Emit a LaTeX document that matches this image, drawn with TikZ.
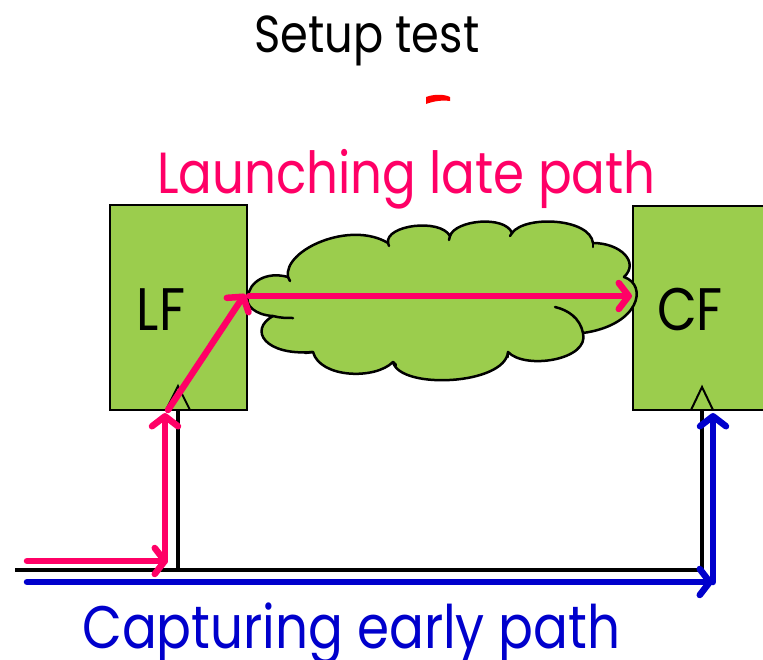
\documentclass[tikz,border=0pt]{standalone}
\usepackage{fontspec}
\newfontfamily\geofont[FakeStretch=0.86]{Poppins}
\usetikzlibrary{arrows.meta}
\definecolor{ffgreen}{RGB}{155,205,77}
\definecolor{latepink}{RGB}{255,0,102}
\definecolor{earlyblue}{RGB}{0,0,204}
\tikzset{
  flop/.style={draw=black,line width=2.5pt,fill=ffgreen,inner sep=0pt},
  wire/.style={draw=black,line width=3.5pt},
  latearrow/.style={draw=latepink,line width=6.5pt,line cap=round,
    -{Straight Barb[length=10pt,width=26pt,round]}},
  earlyarrow/.style={draw=earlyblue,line width=6.5pt,line cap=round,
    -{Straight Barb[length=10pt,width=26pt,round]}},
  clk/.style={draw=black,line width=2pt,line join=miter},
  cloudline/.style={draw=black,line width=2.5pt,line cap=round},
  ffname/.style={font=\geofont\fontsize{60}{66}\selectfont,inner sep=0pt,anchor=base},
  label/.style={inner sep=0pt,anchor=base west},
}
\begin{document}
\begin{tikzpicture}[x=1pt,y=-1pt]
\useasboundingbox (0,0) rectangle (763,659);

% flip-flops
\path[flop] (110,205) rectangle (247,410);
\path[flop] (633,206) rectangle (790,410);
\node[ffname] (lf) at (161,330) {LF};
\node[ffname] (cf) at (690,330) {CF};

% clock inputs
\draw[clk] (166,410) -- (178,386) -- (190,410);
\draw[clk] (691,410) -- (702,387) -- (713,410);

% combinational logic cloud
\path[cloudline,fill=ffgreen,line join=round]
  (248,297) .. controls (249,282) and (266,271) .. (288,277)
  .. controls (283,250) and (350,220) .. (388,243)
  .. controls (385,225) and (440,218) .. (450,236)
  .. controls (455,220) and (505,215) .. (512,233)
  .. controls (525,215) and (590,218) .. (593,243)
  .. controls (620,243) and (640,262) .. (624,277)
  .. controls (648,285) and (640,325) .. (583,333)
  .. controls (590,360) and (525,370) .. (508,352)
  .. controls (505,385) and (400,390) .. (393,362)
  .. controls (375,380) and (320,378) .. (313,352)
  .. controls (265,356) and (248,330) .. (273,316)
  .. controls (255,315) and (245,305) .. (248,297) -- cycle;
% inner folds of the cloud
\draw[cloudline] (273,316) .. controls (280,318) and (287,318) .. (293,318);
\draw[cloudline] (583,333) .. controls (580,318) and (568,310) .. (555,307);
\draw[cloudline] (288,277) -- (290,281);
\draw[cloudline] (388,243) -- (389,246);
\draw[cloudline] (450,236) -- (449,240);
\draw[cloudline] (512,233) -- (510,236);
\draw[cloudline] (593,243) -- (593,247);
\draw[cloudline] (508,352) -- (508,357);
\draw[cloudline] (393,362) -- (396,365);
\draw[cloudline] (313,352) -- (305,353);
\node[inner sep=0pt] (logic) at (443,302) {};

% clock net
\coordinate (src) at (15,570);
\coordinate (lfclk) at (178,410);
\coordinate (lftap) at (178,570);
\coordinate (cfclk) at (702,410);
\coordinate (cftap) at (702,570);
\draw[wire] (src) -- (cftap) -- (cfclk);
\draw[wire] (lftap) -- (lfclk);

% launching path
\coordinate (l0) at (27,561);
\coordinate (l1) at (168,561);
\coordinate (l2) at (165,561);
\coordinate (l3) at (165,413);
\coordinate (l4) at (168,410);
\coordinate (l5) at (245,294);
\coordinate (l6) at (249,296);
\coordinate (l7) at (632,296);
\draw[latearrow] (l0) -- (l1);
\draw[latearrow] (l2) -- (l3);
\draw[latearrow] (l4) -- (l5);
\draw[latearrow] (l6) -- (l7);

% capturing path
\coordinate (c0) at (27,582);
\coordinate (c1) at (713,582);
\coordinate (c2) at (713,413);
\draw[earlyarrow] (c0) -- (c1);
\draw[earlyarrow] (c1) -- (c2);

% small red mark
\fill[red] (426,97) .. controls (434,94) and (444,94) .. (450,97) -- (450,101)
  .. controls (442,100) and (434,101) .. (426,104) -- cycle;

% titles
\node[font=\geofont\fontsize{52}{58}\selectfont,inner sep=0pt,anchor=base] (title) at (367,52) {Setup test};
\node[label,font=\geofont\fontsize{58}{64}\selectfont,text=latepink] (late) at (157,193) {Launching late path};
\node[label,font=\geofont\fontsize{60}{66}\selectfont,text=earlyblue] (early) at (82,648) {Capturing early path};
\end{tikzpicture}
\end{document}
